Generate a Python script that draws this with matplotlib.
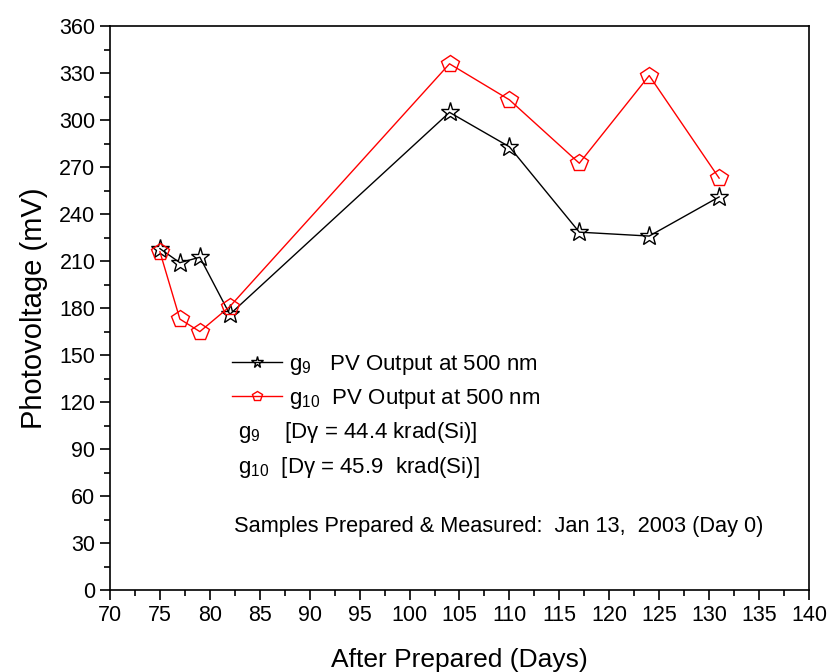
import numpy as np
import matplotlib
matplotlib.use('Agg')
import matplotlib.pyplot as plt
from matplotlib.ticker import MultipleLocator

plt.rcParams['font.family'] = ['Liberation Sans', 'DejaVu Sans']
plt.rcParams['mathtext.default'] = 'regular'

# Jours après préparation et tensions mesurées
days = [75, 77, 79, 82, 104, 110, 117, 124, 131]
pv_g9 = [218, 209, 212.5, 176, 305, 283, 228.5, 226, 251]
pv_g10 = [216, 173, 165, 181, 336, 313, 272.5, 328.5, 263]

x_ticks = list(range(70, 141, 5))
y_ticks = list(range(0, 361, 30))

fig = plt.figure(figsize=(8.3, 6.72), dpi=100)
ax = fig.add_axes([0.1325, 0.122, 0.8422, 0.839])

ax.plot(days, pv_g9, color='black', lw=1, marker='*', ms=14, mfc='none',
        mec='black', mew=1, label='$g_9$   PV Output at 500 nm')
ax.plot(days, pv_g10, color='red', lw=1, marker='p', ms=13, mfc='none',
        mec='red', mew=1, label='$g_{10}$  PV Output at 500 nm')

ax.set_xlim(70, 140)
ax.set_ylim(0, 360)
ax.set_xticks(x_ticks)
ax.set_yticks(y_ticks)
ax.xaxis.set_minor_locator(MultipleLocator(2.5))
ax.yaxis.set_minor_locator(MultipleLocator(15))
ax.tick_params(which='major', direction='out', length=7, width=1.2, labelsize=15.5)
ax.tick_params(which='minor', direction='out', length=4, width=1.2)
for s in ax.spines.values():
    s.set_linewidth(1.2)

ax.set_xlabel('After Prepared (Days)', fontsize=19, labelpad=16)
ax.set_ylabel('Photovoltage (mV)', fontsize=21, labelpad=8)

ax.legend(loc='upper left', bbox_to_anchor=(0.1745, 0.421), frameon=False,
          fontsize=16, handlelength=2.25, handletextpad=0.3, labelspacing=0.45,
          borderpad=0, borderaxespad=0, markerscale=0.6)

ax.text(0.183, 0.280, '$g_9$    [D\u03b3 = 44.4 krad(Si)]', transform=ax.transAxes,
        fontsize=16, va='center')
ax.text(0.183, 0.218, '$g_{10}$  [D\u03b3 = 45.9  krad(Si)]', transform=ax.transAxes,
        fontsize=16, va='center')
ax.text(0.177, 0.112, 'Samples Prepared & Measured:  Jan 13,  2003 (Day 0)',
        transform=ax.transAxes, fontsize=15.7, va='center')

fig.savefig('out.png', dpi=100, facecolor='white')
